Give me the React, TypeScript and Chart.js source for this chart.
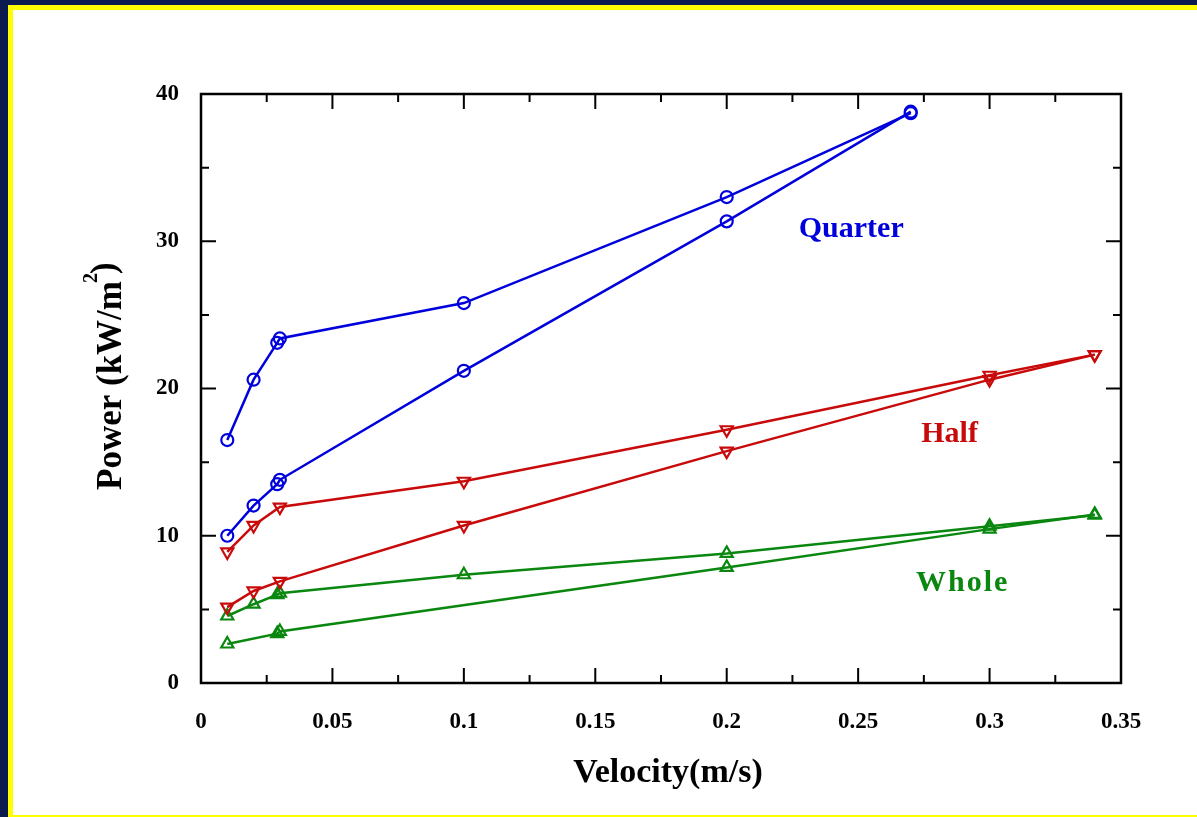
import React, { useEffect, useRef } from 'react';
import { Chart, registerables } from 'chart.js';

Chart.register(...registerables);

// ---- axis ticks ----
const X_MAJOR = [0, 0.05, 0.1, 0.15, 0.2, 0.25, 0.3, 0.35];
const X_TICK_LABELS = ['0', '0.05', '0.1', '0.15', '0.2', '0.25', '0.3', '0.35'];
const X_MINOR = [0.025, 0.075, 0.125, 0.175, 0.225, 0.275, 0.325];
const Y_MAJOR = [0, 10, 20, 30, 40];
const Y_TICK_LABELS = ['0', '10', '20', '30', '40'];
const Y_MINOR = [5, 15, 25, 35];

// ---- data ----
const QUARTER_A_X = [0.01, 0.02, 0.029, 0.03, 0.1, 0.2, 0.27];
const QUARTER_A_Y = [16.5, 20.6, 23.1, 23.4, 25.8, 33.0, 38.7];
const QUARTER_B_X = [0.01, 0.02, 0.029, 0.03, 0.1, 0.2, 0.27];
const QUARTER_B_Y = [10.0, 12.05, 13.5, 13.8, 21.2, 31.35, 38.8];

const HALF_A_X = [0.01, 0.02, 0.03, 0.1, 0.2, 0.3, 0.34];
const HALF_A_Y = [8.9, 10.7, 11.95, 13.7, 17.2, 20.9, 22.3];
const HALF_B_X = [0.01, 0.02, 0.03, 0.1, 0.2, 0.3, 0.34];
const HALF_B_Y = [5.15, 6.25, 6.9, 10.7, 15.75, 20.6, 22.3];

const WHOLE_A_X = [0.01, 0.02, 0.029, 0.03, 0.1, 0.2, 0.3, 0.34];
const WHOLE_A_Y = [4.55, 5.35, 6.0, 6.1, 7.35, 8.8, 10.65, 11.4];
const WHOLE_B_X = [0.01, 0.029, 0.03, 0.2, 0.3, 0.34];
const WHOLE_B_Y = [2.65, 3.35, 3.5, 7.85, 10.45, 11.45];

// ---- in-plot labels (data coordinates) ----
const NOTE_TEXT = ['Quarter', 'Half', 'Whole'];
const NOTE_X = [0.2274, 0.274, 0.272];
const NOTE_Y = [30.3, 16.34, 6.24];

const BLUE = '#0000dc';
const RED = '#c80a0a';
const GREEN = '#0a870f';
const NOTE_COLORS = [BLUE, RED, GREEN];

const SERIF = "'Liberation Serif', 'Times New Roman', serif";

function series(label: string, xs: number[], ys: number[], color: string, style: string, rotation: number) {
  return {
    label,
    data: xs.map((x, i) => ({ x, y: ys[i] })),
    showLine: true,
    borderColor: color,
    borderWidth: 2.5,
    pointStyle: style,
    pointRotation: rotation,
    pointRadius: style === 'circle' ? 6 : 7,
    pointBorderWidth: 2.2,
    pointBorderColor: color,
    pointBackgroundColor: 'rgba(0,0,0,0)',
    tension: 0,
  };
}

const framePlugin = {
  id: 'frameTicks',
  afterDraw(chart: any) {
    const { ctx, chartArea: a, scales } = chart;
    const xs = scales.x;
    const ys = scales.y;
    ctx.save();
    ctx.strokeStyle = '#000';
    ctx.lineWidth = 2;
    ctx.beginPath();
    const xTick = (v: number, len: number) => {
      const p = xs.getPixelForValue(v);
      ctx.moveTo(p, a.bottom);
      ctx.lineTo(p, a.bottom - len);
      ctx.moveTo(p, a.top);
      ctx.lineTo(p, a.top + len);
    };
    const yTick = (v: number, len: number) => {
      const p = ys.getPixelForValue(v);
      ctx.moveTo(a.left, p);
      ctx.lineTo(a.left + len, p);
      ctx.moveTo(a.right, p);
      ctx.lineTo(a.right - len, p);
    };
    X_MAJOR.forEach((v) => xTick(v, 15));
    X_MINOR.forEach((v) => xTick(v, 8));
    Y_MAJOR.forEach((v) => yTick(v, 15));
    Y_MINOR.forEach((v) => yTick(v, 8));
    ctx.stroke();
    ctx.lineWidth = 2.5;
    ctx.strokeRect(a.left, a.top, a.right - a.left, a.bottom - a.top);

    // in-plot notes
    ctx.textAlign = 'left';
    ctx.textBaseline = 'alphabetic';
    NOTE_TEXT.forEach((t, i) => {
      ctx.font = `bold 30px ${SERIF}`;
      (ctx as any).letterSpacing = t === 'Whole' ? '2px' : '0px';
      ctx.fillStyle = NOTE_COLORS[i];
      ctx.fillText(t, xs.getPixelForValue(NOTE_X[i]), ys.getPixelForValue(NOTE_Y[i]));
    });
    (ctx as any).letterSpacing = '0px';

    // x title
    ctx.fillStyle = '#000';
    ctx.font = `bold 34px ${SERIF}`;
    ctx.textAlign = 'center';
    ctx.fillText('Velocity(m/s)', (a.left + a.right) / 2 + 7, a.bottom + 99);

    // y title with superscript
    ctx.save();
    ctx.translate(a.left - 80, 490);
    ctx.rotate(-Math.PI / 2);
    ctx.textAlign = 'left';
    ctx.font = `bold 35px ${SERIF}`;
    const main = 'Power (kW/m';
    ctx.fillText(main, 0, 0);
    const w = ctx.measureText(main).width;
    ctx.font = `bold 20px ${SERIF}`;
    ctx.fillText('2', w - 2, -24);
    const w2 = ctx.measureText('2').width;
    ctx.font = `bold 35px ${SERIF}`;
    ctx.fillText(')', w + w2 - 3, -6);
    ctx.restore();

    ctx.restore();
  },
};

export default function App() {
  const ref = useRef<HTMLCanvasElement | null>(null);

  useEffect(() => {
    if (!ref.current) return;
    const tickFont = { family: SERIF, size: 23, weight: 'bold' as const };
    const chart = new Chart(ref.current, {
      type: 'scatter',
      data: {
        datasets: [
          series('Quarter A', QUARTER_A_X, QUARTER_A_Y, BLUE, 'circle', 0),
          series('Quarter B', QUARTER_B_X, QUARTER_B_Y, BLUE, 'circle', 0),
          series('Half A', HALF_A_X, HALF_A_Y, RED, 'triangle', 180),
          series('Half B', HALF_B_X, HALF_B_Y, RED, 'triangle', 180),
          series('Whole A', WHOLE_A_X, WHOLE_A_Y, GREEN, 'triangle', 0),
          series('Whole B', WHOLE_B_X, WHOLE_B_Y, GREEN, 'triangle', 0),
        ] as any,
      },
      options: {
        responsive: false,
        animation: false,
        layout: { padding: { left: 0, top: 94, right: 76, bottom: 74 } },
        plugins: { legend: { display: false }, tooltip: { enabled: false } },
        scales: {
          x: {
            type: 'linear',
            min: 0,
            max: 0.35,
            grid: { display: false },
            border: { display: false },
            ticks: {
              stepSize: 0.05,
              padding: 17,
              font: tickFont,
              color: '#000',
              maxRotation: 0,
              autoSkip: false,
              callback: (v: any) => {
                const i = X_MAJOR.findIndex((t) => Math.abs(t - Number(v)) < 1e-6);
                return i >= 0 ? X_TICK_LABELS[i] : '';
              },
            },
            afterFit: (s: any) => {
              s.height = 60;
            },
          },
          y: {
            type: 'linear',
            min: 0,
            max: 40,
            grid: { display: false },
            border: { display: false },
            ticks: {
              stepSize: 10,
              padding: 14,
              font: tickFont,
              color: '#000',
              callback: (v: any) => {
                const i = Y_MAJOR.findIndex((t) => Math.abs(t - Number(v)) < 1e-6);
                return i >= 0 ? Y_TICK_LABELS[i] : '';
              },
            },
            afterFit: (s: any) => {
              s.width = 201;
            },
          },
        },
      } as any,
      plugins: [framePlugin],
    });
    return () => chart.destroy();
  }, []);

  return (
    <div style={{ position: 'fixed', left: 0, top: 0, width: 1197, height: 817, background: '#0b1a4f', overflow: 'hidden' }}>
      <div style={{ position: 'absolute', left: 8, top: 5, right: 0, bottom: 0, background: '#ffff00' }} />
      <div style={{ position: 'absolute', left: 13, top: 10, right: 0, bottom: 2, background: '#ffffff' }} />
      <canvas
        ref={ref}
        width={1197}
        height={817}
        style={{ position: 'absolute', left: 0, top: 0, width: 1197, height: 817 }}
      />
    </div>
  );
}
